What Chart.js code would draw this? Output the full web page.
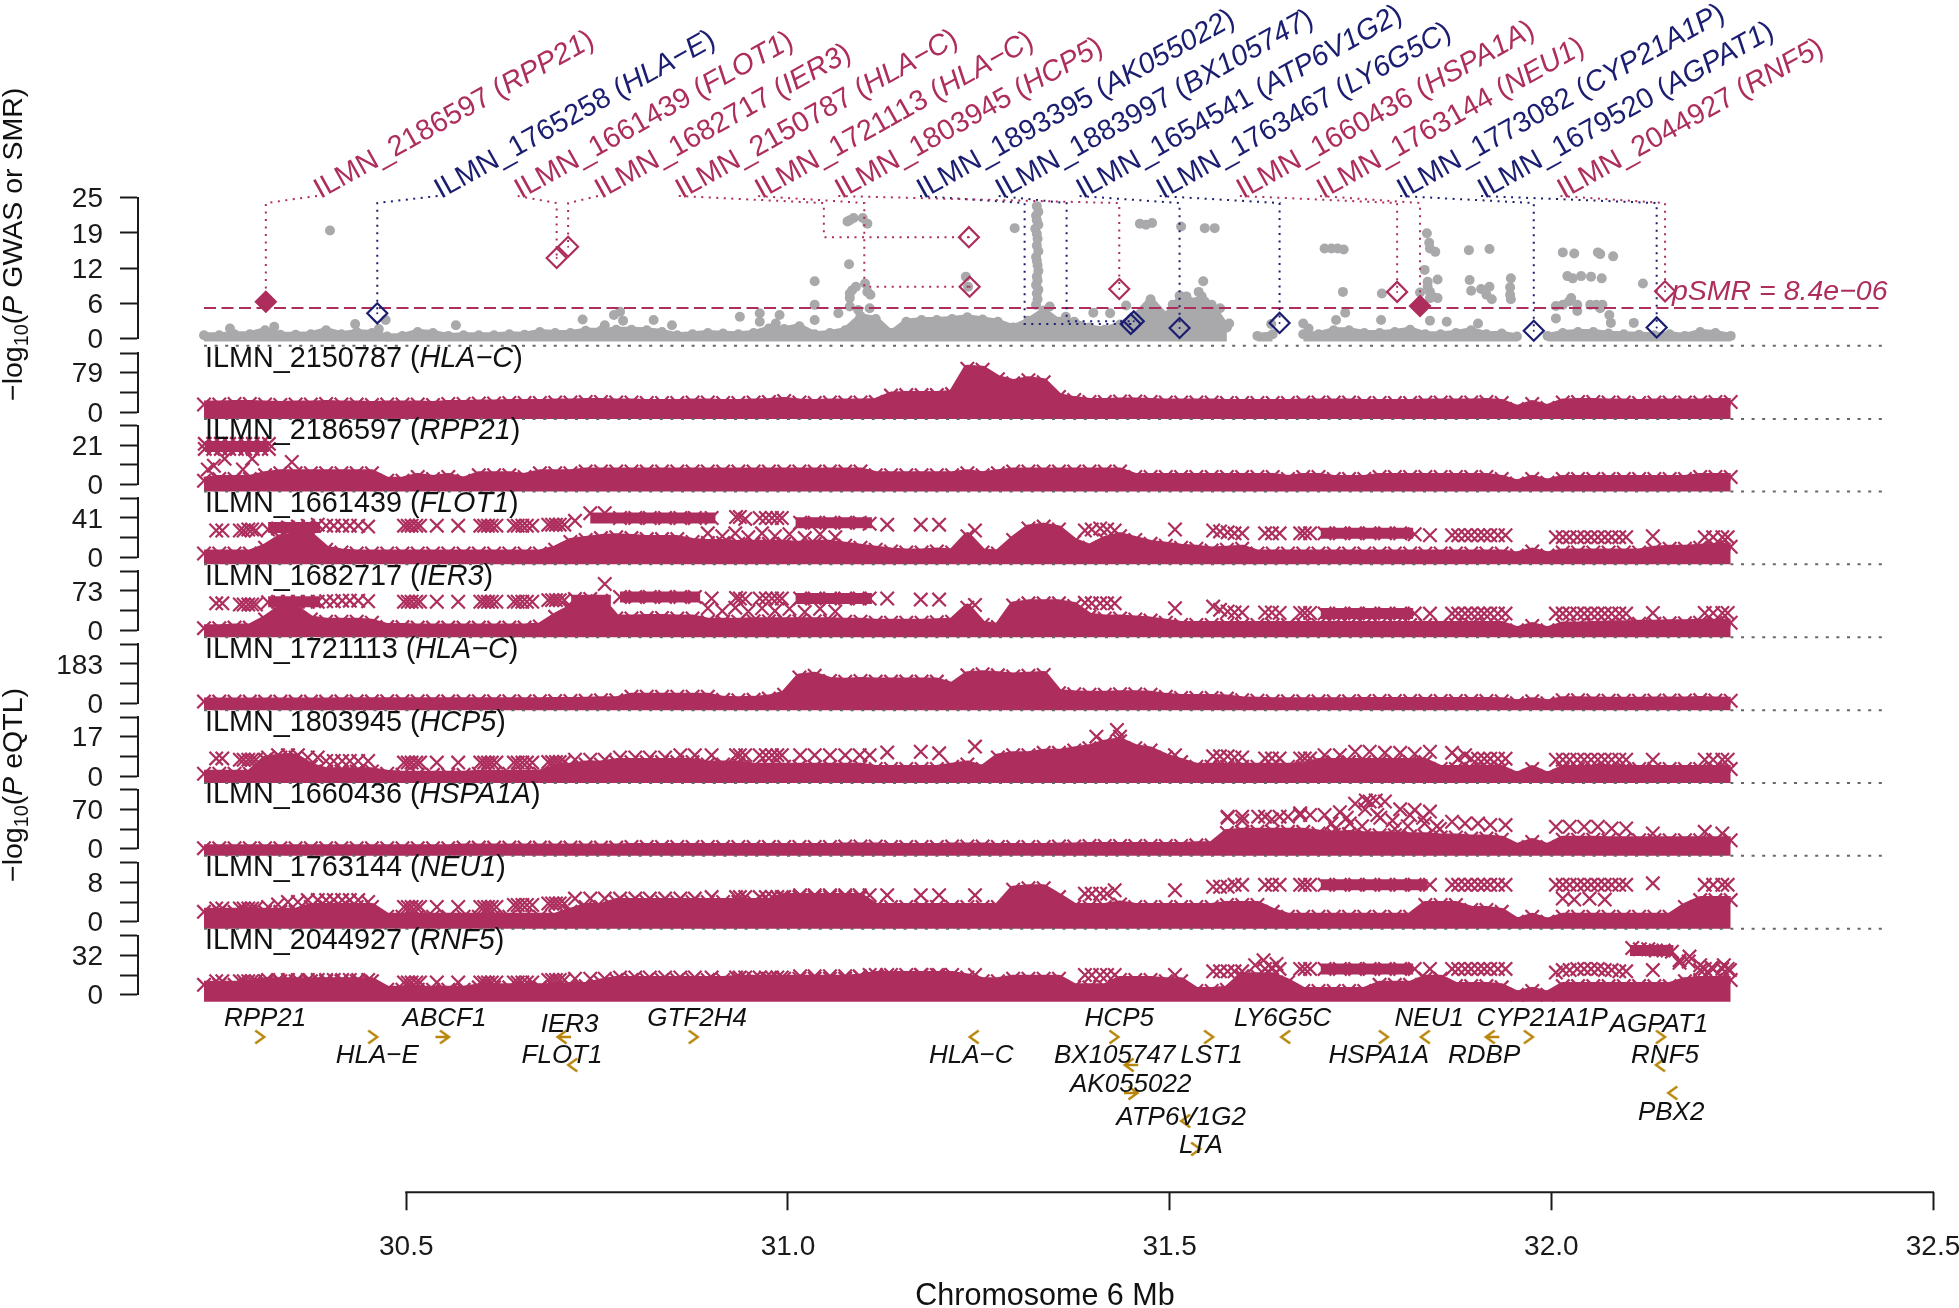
<!DOCTYPE html>
<html><head><meta charset="utf-8"><style>html,body{margin:0;padding:0;background:#fff}canvas{display:block}</style>
<script src="https://cdn.jsdelivr.net/npm/chart.js@4/dist/chart.umd.min.js"></script></head><body>
<canvas id="c" width="1959" height="1308"></canvas>
<script>
// ---------- categories & tick labels ----------
const panelProbes=['ILMN_2150787','ILMN_2186597','ILMN_1661439','ILMN_1682717','ILMN_1721113','ILMN_1803945','ILMN_1660436','ILMN_1763144','ILMN_2044927'];
const panelGenes=['HLA−C','RPP21','FLOT1','IER3','HLA−C','HCP5','HSPA1A','NEU1','RNF5'];
const panelLabelTick=[79,21,41,73,183,17,70,8,32];
const gwasTicks=[0,6.25,12.5,18.75,25];
const gwasTickLabels=['0','6','12','19','25'];
const xTicks=[30.5,31,31.5,32,32.5];
const xTickLabels=['30.5','31.0','31.5','32.0','32.5'];
const pSmrThreshold=5.44;
// ---------- SMR probes ----------
const probeIds=['ILMN_2186597','ILMN_1765258','ILMN_1661439','ILMN_1682717','ILMN_2150787','ILMN_1721113','ILMN_1803945','ILMN_1893395','ILMN_1883997','ILMN_1654541','ILMN_1763467','ILMN_1660436','ILMN_1763144','ILMN_1773082','ILMN_1679520','ILMN_2044927'];
const probeGenes=['RPP21','HLA−E','FLOT1','IER3','HLA−C','HLA−C','HCP5','AK055022','BX105747','ATP6V1G2','LY6G5C','HSPA1A','NEU1','CYP21A1P','AGPAT1','RNF5'];
const probeGroup=[0,1,0,0,0,0,0,1,1,1,1,0,0,1,1,0];
const probeFilled=[1,0,0,0,0,0,0,0,0,0,0,0,1,0,0,0];
const probeLabelX=[30.383,30.541,30.646,30.751,30.857,30.961,31.066,31.173,31.276,31.382,31.487,31.592,31.697,31.802,31.908,32.012];
const probeElbowX=[30.316,30.462,30.697,30.712,31.047,31.100,31.434,31.310,31.365,31.513,31.644,31.798,31.828,31.977,32.138,32.149];
const smrX=[30.316,30.462,30.697,30.712,31.237,31.238,31.434,31.449,31.453,31.513,31.644,31.798,31.828,31.977,32.138,32.149];
const smrY=[6.56,4.5,14.3,16.3,18,9.2,8.8,2.6,3.1,1.9,2.8,8.3,5.8,1.4,2.0,8.4];
// ---------- GWAS ----------
const columnX=[30.235,30.255,30.275,30.295,30.315,30.335,30.355,30.375,30.395,30.415,30.435,30.455,30.475,30.495,30.515,30.535,30.555,30.575,30.595,30.615,30.635,30.655,30.675,30.695,30.715,30.735,30.755,30.775,30.795,30.815,30.835,30.855,30.875,30.895,30.915,30.935,30.955,30.975,30.995,31.015,31.035,31.055,31.075,31.095,31.115,31.135,31.155,31.175,31.195,31.215,31.235,31.255,31.275,31.295,31.315,31.335,31.355,31.375,31.395,31.415,31.435,31.455,31.475,31.495,31.515,31.535,31.555,31.575,31.595,31.615,31.635,31.655,31.675,31.695,31.715,31.735,31.755,31.775,31.795,31.815,31.835,31.855,31.875,31.895,31.915,31.935,31.955,31.975,31.995,32.015,32.035,32.055,32.075,32.095,32.115,32.135,32.155,32.175,32.195,32.215,32.235];
const gwasEnvelope=[.6,.6,.8,.8,1.5,.7,.7,.8,1.5,.8,1.2,1,.4,.5,1.2,1,.5,.6,.6,.6,.8,.7,1.2,1,1,1.4,1.4,1.6,1.6,1.5,1.2,.6,.8,1,.9,.8,1,1.8,1.7,2.2,.8,1,1.5,4,3.5,1,3,3.3,3.3,3.5,3.8,3.4,3,2,3.2,5,3,3,2,1.6,2.5,4,7,4,7.5,6.5,6,2,null,.5,.8,null,.8,.8,1.5,1.5,1,1,1.2,1.6,.8,.8,1,1.5,.8,.9,.4,null,.5,1,1.2,1.2,.9,.8,.7,.6,.8,.5,1.2,1,.5];
const gwasDotX=[30.400,30.433,30.473,30.464,30.269,30.565,30.731,30.772,30.780,30.784,30.824,30.848,30.760,30.327,30.937,30.963,30.963,30.989,30.984,31.035,31.035,31.035,31.066,31.081,31.086,31.098,31.104,31.078,31.080,31.081,31.084,31.089,31.101,31.104,31.108,31.081,31.081,31.092,31.107,31.297,31.233,31.236,31.326,31.328,31.325,31.326,31.328,31.324,31.326,31.327,31.326,31.328,31.325,31.326,31.327,31.328,31.326,31.327,31.325,31.328,31.326,31.327,31.325,31.343,31.364,31.400,31.422,31.443,31.461,31.469,31.477,31.515,31.546,31.559,31.544,31.538,31.542,31.546,31.513,31.522,31.504,31.566,31.578,31.675,31.682,31.633,31.727,31.778,31.703,31.712,31.720,31.728,31.730,31.777,31.718,31.828,31.837,31.840,31.841,31.848,31.834,31.851,31.838,31.838,31.841,31.844,31.851,31.841,31.892,31.919,31.893,31.895,31.908,31.919,31.915,31.922,31.947,31.946,31.946,31.947,31.863,31.904,31.841,32.108,32.078,32.076,32.015,32.030,32.061,32.064,32.081,32.021,32.028,32.039,32.052,32.066,32.120,32.006,32.023,32.015,32.034,32.051,32.059,32.067,32.034,32.064,32.006,32.026];
const gwasDotY=[19.2,2.6,3.3,1.7,1.8,2.4,3.4,4.2,4.8,3.2,3.3,2.4,2.4,2.1,3.9,4.5,3,4.2,2.7,10.2,6,3.3,4.5,21,21.4,21.4,20.4,20.8,13.2,7.2,8.6,9.2,9.8,8.3,7.8,8,5.7,5.1,5.4,19.6,11,9.2,23.5,22.5,21.8,21,20.2,19.5,18.6,17.7,16.5,15.5,14.5,13.8,13,12,11,10.3,9.5,8.7,8,7,6,5.7,3.9,4.6,4.5,5.9,20.4,20.2,20.5,19.9,19.6,19.6,10.2,8.3,7.5,6.6,7.6,7.5,6,5.4,2.7,2.7,1.8,2.6,8.3,8,16,16,16,15.8,4.6,3.3,3.3,8.2,18.7,17,16,15.4,12.2,10.5,10.1,9.2,8.3,7.5,7.2,7.2,15.7,15.9,10.4,8.5,8.8,9.2,7.8,7,10.7,9.1,7.8,7,3,2.7,3.2,2.8,2.8,4.2,15.3,15.1,15.3,15,14.6,11.1,10.7,11.1,11,10.7,9.8,5.8,6.6,6,6,6,6,6,4.9,5.4,3.6,7.2];
// ---------- eQTL upper envelopes (columns of columnX) ----------
const hla2150787=[15,15,16,16,15,14,15,15,16,15,15,14,15,15,15,14,16,16,17,17,18,18,18,19,19,20,20,19,19,18,18,18,19,19,18,18,19,20,22,19,18,19,19,19,20,33,34,34,34,36,87,85,66,58,64,60,30,24,20,20,21,21,20,19,19,19,19,18,18,18,18,18,19,19,19,19,18,18,18,18,19,19,19,19,20,18,6,16,8,19,20,20,19,19,18,19,19,19,19,20,20];
const rpp21=[2,3,3,3,5,6,6,6,6,6,6,6,2,2,4,3,4,2,5,5,5,4,6,6,6,7,7,7,7,7,7,7,7,7,7,7,7,7,7,7,7,7,7,7,5,5,5,5,5,5,6,5,6,7,7,7,7,7,7,7,7,4,4,4,4,4,4,4,4,4,4,3,4,4,3,3,3,4,4,4,4,4,4,4,4,3,.5,3,1,3,3,3,3,3,3,3,3,3,4,4,4];
const flot1=[4,4,4,4,10,20,22,22,8,5,4,4,4,4,4,4,4,4,4,4,4,4,4,8,16,18,20,21,20,19,19,19,16,15,15,14,14,14,14,13,14,14,12,10,8,6,5,5,6,5,22,5,4,18,30,32,29,16,10,18,22,18,14,12,10,9,7,8,9,4,4,4,4,4,4,4,4,4,4,4,4,4,4,4,4,4,2,6,2,5,5,5,5,5,5,8,9,9,10,11,11];
const ier3=[4,4,5,5,20,40,40,20,16,16,16,14,6,6,5,5,5,5,5,5,5,5,7,25,40,54,55,22,22,23,23,22,22,16,16,16,17,17,17,17,17,17,16,16,14,14,14,14,15,16,42,10,6,46,50,50,50,45,25,22,22,20,18,14,10,10,10,10,10,10,10,10,10,10,10,10,10,10,10,10,10,10,10,10,10,10,0,8,0,9,9,10,11,11,12,12,13,13,14,14,14];
const hla1721113=[8,8,8,8,8,8,8,8,8,9,9,9,10,10,10,10,9,10,10,10,10,10,10,11,11,12,14,14,31,31,31,31,31,31,16,14,16,22,40,120,128,104,100,104,101,101,101,101,101,80,130,135,130,125,128,132,47,42,40,40,42,42,40,30,25,25,25,22,14,12,10,10,10,10,10,10,11,11,11,11,11,11,11,11,11,10,0,10,0,14,14,13,12,12,12,13,13,13,15,13,12];
const hcp5=[1,1,1,1,7,8,8,4,2,2,2,2,1,.5,.5,.5,.5,.5,1,1,1,1,1,3,4,5,5,6,6,6,6,6,6,5,5,5,4,4,4,4,4,4,4,4,3,3,3,3,3,4,5,3,8,9,9,10,10,11,12,14,15,12,11,8,6,4,4,4,4,4,4,4,4,6,6,6,6,6,6,6,6,3,3,3,3,3,0,3,0,3,3,3,3,3,3,3,3,3,3,3,3];
const hspa1a=[1,1,1,1,1,1,1,1,1,1,1,1,1,1,1,1,1,2,2,2,2,2,2,2,2,2,2,2,3,3,3,3,3,3,3,3,3,3,3,3,3,3,4,4,4,3,3,3,3,4,4,4,3,3,3,3,4,4,5,5,5,5,5,5,5,6,6,28,30,30,30,30,30,27,25,26,24,24,24,22,22,20,20,18,18,16,3,12,3,16,16,16,15,15,15,15,15,15,15,15,15];
const neu1=[2,2,2,2,2,2,2,3,3,3,3,3,1,1,1,1,1,1,1,1,1,1,1,1,2,3,3,4,4,4,4,4,4,4,4,4,4,4,5,5,5,5,5,5,3,3,3,3,3,3,3,3,3,6.5,6.8,6.8,5,3,3,3,3.5,3,3,3,3,3,3,3.4,3.4,3.4,2,1,1,1,1,1,1,1,1,1,3.4,3.4,3.4,2.4,2.4,2,0,1,0,1,1,1,1,1,1,1,1,3,4.4,4.4,4.4];
const rnf5=[8,8,8,8,11,11,11,11,11,11,11,11,4,4,4,4,4,4,6,6,6,6,6,6,7,7,10,12,12,12,12,12,12,12,12,13,13,13,13,13,13,13,13,14,16,16,16,16,16,16,14,11,11,13,13,13,13,6,6,6,12,12,12,11,11,3,3,4,15,15,15,10,3,3,3,3,3,8,8,8,13,13,7,7,7,6,0,3,0,7,7,7,7,7,7,7,7,11,12,12,12];
// ---------- eQTL SNPs standing above the main band ----------
const rowX=[30.251,30.259,30.282,30.293,30.303,30.319,30.332,30.345,30.358,30.371,30.384,30.395,30.405,30.416,30.426,30.437,30.450,30.497,30.507,30.518,30.540,30.568,30.597,30.607,30.618,30.641,30.652,30.665,30.686,30.696,30.707,30.721,30.741,30.760,30.780,30.800,30.819,30.839,30.859,30.878,30.900,30.932,30.944,30.963,30.979,30.992,31.016,31.035,31.055,31.075,31.094,31.107,31.130,31.174,31.198,31.245,31.389,31.409,31.428,31.507,31.557,31.576,31.595,31.625,31.644,31.671,31.684,31.703,31.723,31.743,31.762,31.782,31.802,31.821,31.841,31.870,31.887,31.904,31.920,31.940,32.006,32.024,32.043,32.061,32.079,32.098,32.133,32.201,32.224];
const flot1Row=[28,28,28,29,28,29,30,31,32,33,34,33,33,33,33,33,32,33,33,33,33,33,33,33,33,33,33,33,34,34,34,38,46,46,41,41,41,41,41,41,41,42,40,41,41,41,36,36,36,36,36,35,34,34,34,28,28,30,28,29,28,26,25,25,25,25,25,25,25,25,25,25,25,24,23,23,23,23,23,23,21,21,21,21,21,21,22,21,21];
const ier3Row=[50,50,48,48,48,52,53,53,53,53,53,54,54,55,55,55,54,53,53,53,53,53,53,53,53,53,53,53,56,56,56,58,58,86,62,62,62,62,62,62,59,60,58,59,59,59,59,59,59,59,59,59,59,57,57,47,51,50,50,41,44,35,33,33,32,32,32,31,31,31,31,31,31,31,31,31,31,31,31,31,31,31,31,31,31,31,32,32,32];
const hcp5Row=[7.6,7.6,7,7,7,8,9,9,9,8,8,6.5,6.5,6.5,6.5,6.5,6.5,5.8,5.8,5.8,5.8,5.8,5.8,5.8,5.8,5.8,5.8,5.8,6,6,6,7,7,7,8,8,8,8,9,9,9,9,9,9,9,9,9,9,9,9,9,9,10.2,10.5,9.8,12.7,8,8,8,9,8.5,8.5,8,7.6,7.6,7.6,7.6,9,9,10.5,10.5,10,10,9.5,10.5,10,9,7.5,7.5,7.5,7,7,7,7,7,7,7,7,7];
const neu1Row=[2.7,2.7,2.7,2.7,2.7,3,3.5,4,4,4.4,4.4,4.4,4.4,4.4,4.4,4.4,4,3,3,3,3,3,3,3,3,3.4,3.4,3.4,3.7,3.7,3.7,4.7,4.7,4.7,4.7,4.7,4.7,4.7,4.7,4.7,5,5,5,5,5,5,5.4,5.4,5.4,5.4,5.4,5.4,5.4,5.4,5.4,5.4,5.7,5.7,6.4,6.4,7.1,7.1,7.5,7.5,7.5,7.5,7.5,7.5,7.5,7.5,7.5,7.5,7.5,7.5,7.5,7.5,7.5,7.5,7.5,7.5,7.5,7.5,7.5,7.5,7.5,7.5,7.8,7.5,7.5];
const rnf5Row=[11,11,11,11,11,12,12,12,12,12,12,12,12,12,12,12,12,10,10,10,10,10,10,10,10,10,10,10,12,12,12,13,13,13,14,14,14,14,14,14,14,14,14,14,14,14,15,15,15,15,15,16,16,16,16,16,16,16,16,16,19,19,19,21,21,21,21,21,21,21,21,21,21,21,21,21,21,21,21,21,18,20,21,21,20,19,20,21,21];
// second, in-between set of the same sparse SNPs
const rowX2=[30.287,30.298,30.502,30.513,30.602,30.612,30.646,30.658,30.691,30.701,30.937,30.971,30.986,31.398,31.418,31.566,31.585,31.634,31.677,31.878,31.895,31.912,31.930,32.015,32.034,32.052,32.070,32.089,32.212,32.231];
const flot1Row2=[28,29,33,33,33,33,33,33,34,34,42,41,41,29,29,27,25,25,25,23,23,23,23,21,21,21,21,21,21,21];
const ier3Row2=[48,48,53,53,53,53,53,53,56,56,59,59,59,50,50,38,33,33,32,31,31,31,31,31,31,31,31,31,32,32];
const hcp5Row2=[7,7,5.8,5.8,5.8,5.8,5.8,5.8,6,6,9,9,9,8,8,8.5,8,7.6,7.6,7.5,7.5,7.5,7.5,7,7,7,7,7,7,7];
const neu1Row2=[2.7,2.7,3,3,3,3,3.4,3.4,3.7,3.7,5,5,5,5.7,5.7,7.1,7.5,7.5,7.5,7.5,7.5,7.5,7.5,7.5,7.5,7.5,7.5,7.5,7.5,7.5];
const rnf5Row2=[11,11,10,10,10,10,10,10,12,12,14,14,14,16,16,19,19,21,21,21,21,21,21,20,21,21,20,19,21,21];
const hspaRowX=[31.576,31.595,31.625,31.644,31.671,31.684,31.703,31.723,31.743,31.762,31.782,31.802,31.821,31.841,31.870,31.887,31.904,31.920,31.940,32.006,32.024,32.043,32.061,32.079,32.098,32.133,32.201,32.224];
const hspaRowY=[57,57,57,57,63,60,60,65,80,84,84,70,69,66,48,45,45,42,42,39,39,39,39,36,36,27,30,27];
// extra scattered SNPs
const hspaExtraX=[31.712,31.732,31.752,31.772,31.792,31.812,31.832,31.850,31.576,31.595,31.616,31.634,31.655,31.671,31.717,31.736,31.756,31.776,31.795,31.815,31.834,31.854,31.757,31.770];
const hspaExtraY=[45,55,40,60,50,40,55,40,55,50,57,52,57,60,35,45,70,55,35,60,45,35,86,86];
const rppExtraX=[30.236,30.247,30.257,30.268,30.278,30.289,30.299,30.310,30.320,30.236,30.247,30.257,30.268,30.278,30.289,30.299,30.310,30.320,30.262,30.298,30.350,30.240,30.248,30.286];
const rppExtraY=[21.7,21.7,21.7,21.7,21.7,21.7,21.7,21.7,21.7,19,19,19,19,19,19,19,19,19,13.7,13.7,12,8,10,8];
const midX=[30.895,30.914,30.931,30.948,30.966,30.983,31.002,31.022,31.042,31.062];
const flot1MidY=[25,22,25,21,25,22,24,20,24,21];
const ier3MidY=[41,36,42,35,41,36,40,34,40,35];
const rnfExtraX=[32.106,32.116,32.127,32.137,32.147,32.158,32.168,32.180,32.195,31.623,31.640,32.168,32.181,32.195,32.210,32.226,32.234,31.612,31.634];
const rnfExtraY=[38,37,37,36,36,35,28,27,20,28,25,26,31,24,22,24,20,24,22];
const hcpExtraX=[31.431,31.404,31.435];
const hcpExtraY=[19.9,17,17];
const neuExtraX=[32.015,32.030,32.050,32.070];
const neuExtraY=[4.7,4.5,4.7,4.5];
// unbroken runs of SNPs at one level
const runPanel=[1,2,2,2,2,3,3,3,3,3,7,8,8];
const runStart=[30.236,30.319,30.741,31.010,31.698,30.319,30.716,30.780,31.010,31.698,31.698,31.698,32.103];
const runEnd=[30.320,30.387,30.905,31.110,31.819,30.387,30.768,30.885,31.110,31.819,31.838,31.819,32.160];
const runY=[20.3,31,41,36,25,53,56,62,59,31,7.5,21,36];
// ---------- gene track ----------
const geneNames=['RPP21','ABCF1','IER3','GTF2H4','HLA−E','FLOT1','HLA−C','HCP5','LY6G5C','NEU1','CYP21A1P','AGPAT1','BX105747','LST1','HSPA1A','RDBP','RNF5','AK055022','ATP6V1G2','LTA','PBX2'];
const geneLabelX=[30.315,30.550,30.714,30.881,30.462,30.704,31.240,31.434,31.648,31.840,31.988,32.141,31.428,31.555,31.774,31.912,32.149,31.449,31.515,31.541,32.157];
const geneLabelRow=[-.39,-.39,-.19,-.39,.93,.93,.93,-.39,-.39,-.39,-.39,-.19,.93,.93,.93,.93,.93,1.95,3.14,4.14,2.96];
const arrowX=[30.308,30.456,30.550,30.704,30.718,30.876,31.244,31.427,31.551,31.652,31.780,31.835,31.920,31.970,32.143,32.143,32.159,31.447,31.452,31.521,31.534];
const arrowRow=[0,0,0,0,1,0,0,0,0,0,0,0,0,0,0,1,2,1,2,3,4];
const arrowKind=['>','>','->','<-','<','>','<','>','>','<','>','<','<-','>','>','<','<','<-','->','<','>'];

// ---------- style / layout ----------
const PINK='#AD2E5D',BLUE='#1B1E70',GREY='#A9A9AB',GOLD='#B8860B',INK='#1a1a1a';
const FONT='"Liberation Sans"';
const eqtlSeries=[hla2150787,rpp21,flot1,ier3,hla1721113,hcp5,hspa1a,neu1,rnf5];
const eqtlRows=[null,null,flot1Row,ier3Row,null,hcp5Row,null,neu1Row,rnf5Row];
const eqtlRows2=[null,null,flot1Row2,ier3Row2,null,hcp5Row2,null,neu1Row2,rnf5Row2];
const eqtlExtras={1:[rppExtraX,rppExtraY],2:[midX,flot1MidY],3:[midX,ier3MidY],5:[hcpExtraX,hcpExtraY],6:[hspaRowX.concat(hspaExtraX),hspaRowY.concat(hspaExtraY)],7:[neuExtraX,neuExtraY],8:[rnfExtraX,rnfExtraY]};
const panelZeroPx=[412,484.5,557.3,630.3,703.3,776,848.7,921.7,994.7];
const zip=(xs,ys)=>xs.map((x,i)=>({x,y:ys[i]}));

const yTickStyle={autoSkip:false,padding:17,labelOffset:2,color:INK,font:{family:FONT,size:28}};
const scales={
 x:{type:'linear',position:'bottom',min:30.2,max:32.5,
  afterFit:s=>{s.height=0},
  afterBuildTicks:s=>{s.ticks=xTicks.map(v=>({value:v}))},
  border:{display:false},grid:{drawOnChartArea:false,drawTicks:true,tickLength:18,tickWidth:2,tickColor:INK},
  ticks:{autoSkip:false,maxRotation:0,padding:20,color:INK,font:{family:FONT,size:28},callback:(v,i)=>xTickLabels[i]}},
 yTrack:{type:'linear',position:'left',display:false,reverse:true,min:0,max:4},
 yGwas:{type:'linear',position:'left',min:0,max:25,
  afterFit:s=>{s.width=0},
  afterBuildTicks:s=>{s.ticks=gwasTicks.map(v=>({value:v}))},
  border:{display:true,color:INK,width:2},grid:{drawOnChartArea:false,tickLength:18,tickWidth:2,tickColor:INK},
  ticks:{...yTickStyle,callback:(v,i)=>gwasTickLabels[i]}}
};
panelLabelTick.forEach((L,p)=>{
 scales['y'+p]={type:'linear',position:'left',min:0,max:L*1.5,
  afterFit:s=>{s.width=0},
  afterBuildTicks:s=>{s.ticks=[0,L/2,L,L*1.5].map(v=>({value:v}))},
  border:{display:true,color:INK,width:2},grid:{drawOnChartArea:false,tickLength:18,tickWidth:2,tickColor:INK},
  ticks:{...yTickStyle,callback:(v,i)=>i===0?'0':(i===2?String(L):'')}};
});

const placeScales={id:'placeScales',afterLayout(chart){
 const put=(s,l,r,t,b)=>{s.left=l;s.right=r;s.top=t;s.bottom=b;s.width=r-l;s.height=b-t;s.configure();};
 put(chart.scales.x,406.3-(30.5-30.2)*763.4,1933,1192.3,1300);
 put(chart.scales.yTrack,0,138,1037,1149);
 put(chart.scales.yGwas,0,138,197.7,338.7);
 panelZeroPx.forEach((z,p)=>put(chart.scales['y'+p],0,138,z-59,z));
}};

function rich(ctx,spans,x,y,size,color,rot,align){
 ctx.save();ctx.translate(x,y);if(rot)ctx.rotate(rot);ctx.fillStyle=color;ctx.textBaseline='alphabetic';ctx.textAlign='left';
 const fontOf=s=>(s.i?'italic ':'')+(s.sub?size*.7:size)+'px '+FONT;
 let w=0;spans.forEach(s=>{ctx.font=fontOf(s);w+=ctx.measureText(s.t).width});
 let cx=align==='center'?-w/2:0;
 spans.forEach(s=>{ctx.font=fontOf(s);ctx.fillText(s.t,cx,s.sub?size*.22:0);cx+=ctx.measureText(s.t).width});
 ctx.restore();
}
const texts={id:'texts',afterDatasetsDraw(chart){
 const c=chart.ctx,X=chart.scales.x;
 c.save();c.strokeStyle=INK;c.lineWidth=2;c.beginPath();c.moveTo(X.getPixelForValue(xTicks[0])-1,X.top);c.lineTo(X.getPixelForValue(xTicks[4])+1,X.top);c.stroke();c.restore();
 panelProbes.forEach((id,p)=>{
  const z=chart.scales['y'+p].getPixelForValue(0);
  rich(c,[{t:id+' ('},{t:panelGenes[p],i:1},{t:')'}],205,z-45.5,28.8,'#111');
 });
 probeIds.forEach((id,i)=>{
  rich(c,[{t:id+' ('},{t:probeGenes[i],i:1},{t:')'}],X.getPixelForValue(probeLabelX[i])+3.5,199,28.8,probeGroup[i]?BLUE:PINK,-29.2*Math.PI/180);
 });
 rich(c,[{t:'pSMR = 8.4e−06',i:1}],1672,chart.scales.yGwas.getPixelForValue(pSmrThreshold)-8,28.5,PINK);
 geneNames.forEach((g,i)=>{
  rich(c,[{t:g,i:1}],X.getPixelForValue(geneLabelX[i]),chart.scales.yTrack.getPixelForValue(geneLabelRow[i]),26,'#111',0,'center');
 });
 rich(c,[{t:'−log'},{t:'10',sub:1},{t:'('},{t:'P',i:1},{t:' GWAS or SMR)'}],22,401,28.5,'#111',-Math.PI/2);
 rich(c,[{t:'−log'},{t:'10',sub:1},{t:'('},{t:'P',i:1},{t:' eQTL)'}],22,882,28.5,'#111',-Math.PI/2);
 rich(c,[{t:'Chromosome 6 Mb'}],1045,1305,30.5,'#111',0,'center');
}};

function sprite(kind){
 const cv=document.createElement('canvas');cv.width=cv.height=20;const g=cv.getContext('2d');
 g.strokeStyle=GOLD;g.lineWidth=2.4;g.beginPath();
 const right=kind.includes('>');const d=right?1:-1;
 g.moveTo(10-d*4.5,3.5);g.lineTo(10+d*4.5,10);g.lineTo(10-d*4.5,16.5);
 if(kind.includes('-')){g.moveTo(10-d*9,10);g.lineTo(10+d*4.5,10);}
 g.stroke();return cv;
}
const sprites={'>':sprite('>'),'<':sprite('<'),'->':sprite('->'),'<-':sprite('<-')};

const datasets=[];
const xMark={pointStyle:'crossRot',pointRadius:9.5,pointBorderWidth:2.2,pointBorderColor:PINK,pointBackgroundColor:PINK,showLine:false};
datasets.push({label:'gene arrows',yAxisID:'yTrack',data:zip(arrowX,arrowRow),showLine:false,pointRadius:8,pointStyle:ctx=>sprites[arrowKind[ctx.dataIndex]],order:0});
datasets.push({label:'SMR',yAxisID:'yGwas',data:zip(smrX,smrY),showLine:false,pointStyle:'rectRot',pointRadius:10,pointBorderWidth:2.2,
 pointBorderColor:ctx=>probeGroup[ctx.dataIndex]?BLUE:PINK,
 pointBackgroundColor:ctx=>probeFilled[ctx.dataIndex]?PINK:'rgba(0,0,0,0)',order:0});
datasets.push({label:'SMR centre',yAxisID:'yGwas',data:zip(smrX,smrY),showLine:false,pointStyle:'circle',pointRadius:1,pointBorderWidth:0,
 pointBackgroundColor:ctx=>probeGroup[ctx.dataIndex]?BLUE:PINK,order:0});
probeIds.forEach((id,i)=>{
 const col=probeGroup[i]?BLUE:PINK;
 datasets.push({label:id+' link',yAxisID:'yGwas',showLine:true,pointRadius:0,borderColor:col,borderWidth:2,borderDash:[2,5.5],fill:false,
  data:[{x:probeLabelX[i],y:25.3},{x:probeElbowX[i],y:24.05},{x:probeElbowX[i],y:smrY[i]},{x:smrX[i],y:smrY[i]}],order:1});
});
datasets.push({label:'pSMR',yAxisID:'yGwas',showLine:true,pointRadius:0,borderColor:PINK,borderWidth:2.2,borderDash:[12,5.5],fill:false,
 data:[{x:30.235,y:pSmrThreshold},{x:32.434,y:pSmrThreshold}],order:2});
datasets.push({label:'GWAS dots',yAxisID:'yGwas',data:zip(gwasDotX,gwasDotY),showLine:false,pointStyle:'circle',pointRadius:5,pointBorderWidth:0,pointBackgroundColor:GREY,order:3});
datasets.push({label:'GWAS band',yAxisID:'yGwas',data:zip(columnX,gwasEnvelope),showLine:true,borderColor:GREY,borderWidth:6,borderJoinStyle:'round',backgroundColor:GREY,
 fill:{target:{value:-0.5}},spanGaps:false,pointStyle:'circle',pointRadius:5,pointBorderWidth:0,pointBackgroundColor:GREY,order:3});
const dottedLine=(axis,y)=>({label:'baseline',yAxisID:axis,showLine:true,pointRadius:0,borderColor:'#666',borderWidth:2,borderDash:[3,7.6],fill:false,data:[{x:30.235,y},{x:32.434,y}],order:2});
datasets.push(dottedLine('yGwas',-1.24));
eqtlSeries.forEach((vals,p)=>{
 const L=panelLabelTick[p],axis='y'+p,base=-0.178*L;
 datasets.push({label:panelProbes[p],yAxisID:axis,data:zip(columnX,vals),...xMark,showLine:true,borderColor:PINK,borderWidth:8,borderJoinStyle:'round',backgroundColor:PINK,fill:{target:{value:base}},order:4});
 if(eqtlRows[p]){
  datasets.push({label:panelProbes[p]+' upper',yAxisID:axis,data:zip(rowX,eqtlRows[p]),...xMark,order:4});
  datasets.push({label:panelProbes[p]+' upper 2',yAxisID:axis,data:zip(rowX2,eqtlRows2[p]),...xMark,order:4});
 }
 if(eqtlExtras[p])datasets.push({label:panelProbes[p]+' scattered',yAxisID:axis,data:zip(eqtlExtras[p][0],eqtlExtras[p][1]),...xMark,order:4});
 runPanel.forEach((q,k)=>{ if(q===p) datasets.push({label:panelProbes[p]+' run',yAxisID:axis,showLine:true,pointRadius:0,borderColor:PINK,borderWidth:11,fill:false,data:[{x:runStart[k],y:runY[k]},{x:runEnd[k],y:runY[k]}],order:4}); });
 if(p<8)datasets.push(dottedLine(axis,base));
});

new Chart(document.getElementById('c'),{type:'scatter',data:{datasets},plugins:[placeScales,texts],
 options:{responsive:false,animation:false,events:[],devicePixelRatio:1,layout:{padding:0,autoPadding:false},
  elements:{line:{tension:0}},datasets:{scatter:{clip:false}},
  plugins:{legend:{display:false},tooltip:{enabled:false},title:{display:false}},scales}});
</script></body></html>
